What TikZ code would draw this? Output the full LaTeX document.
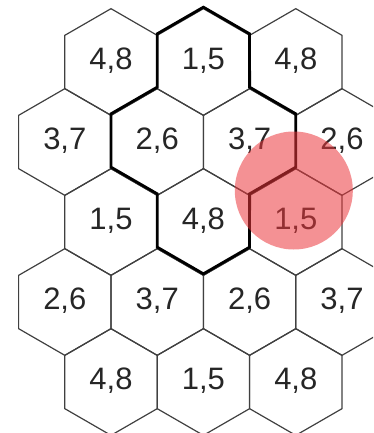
\documentclass[tikz,border=0pt]{standalone}
\usepackage{fontspec}
\setmainfont{Liberation Sans}
\usepackage{tikz}
\usetikzlibrary{calc}

\begin{document}
\begin{tikzpicture}[
  x=1pt, y=1pt,
  hexcell/.style={draw=black!75, line width=1.2pt},
  hexlab/.style={inner sep=0pt, text=black!85, yshift=1.5pt,
    font=\fontsize{31}{31}\selectfont},
  rim/.style={draw=black, line width=2.8pt, line join=miter},
  spot/.style={circle, fill={rgb,255:red,235;green,55;blue,60}, fill opacity=0.55,
    minimum size=118pt, inner sep=0pt},
]
  \def\hr{53.33}
  \useasboundingbox (0,0) rectangle (373,-433);
  \clip (0,0) rectangle (373,-433);

  % --- honeycomb, row by row ----------------------------------------
  \foreach \cx/\cy/\a/\b [count=\i] in {
      111/-62/4/8, 203.4/-62/1/5, 295.8/-62/4/8,
      64.8/-142/3/7, 157.2/-142/2/6, 249.6/-142/3/7, 342/-142/2/6,
      111/-222/1/5, 203.4/-222/4/8, 295.8/-222/1/5,
      64.8/-302/2/6, 157.2/-302/3/7, 249.6/-302/2/6, 342/-302/3/7,
      111/-382/4/8, 203.4/-382/1/5, 295.8/-382/4/8} {
    \draw[hexcell] (\cx,\cy) +(90:\hr) -- +(30:\hr) -- +(-30:\hr) -- +(-90:\hr)
      -- +(-150:\hr) -- +(150:\hr) -- cycle;
    \node[hexlab] (h\i) at (\cx,\cy) {\a,\b};
  }

  % --- bold outline of the four-cell block --------------------------
  \draw[rim] ($(h2)+(90:\hr)$) -- ($(h2)+(30:\hr)$) -- ($(h6)+(90:\hr)$)
    -- ($(h6)+(30:\hr)$) -- ($(h6)+(-30:\hr)$) -- ($(h6)+(-90:\hr)$)
    -- ($(h9)+(-30:\hr)$) -- ($(h9)+(-90:\hr)$) -- ($(h9)+(-150:\hr)$)
    -- ($(h5)+(-90:\hr)$) -- ($(h5)+(-150:\hr)$) -- ($(h5)+(150:\hr)$)
    -- ($(h5)+(90:\hr)$) -- ($(h2)+(150:\hr)$) -- cycle;

  % --- highlight ----------------------------------------------------
  \node[spot] (spot) at ($(h10)+(-2,30)$) {};
\end{tikzpicture}
\end{document}
